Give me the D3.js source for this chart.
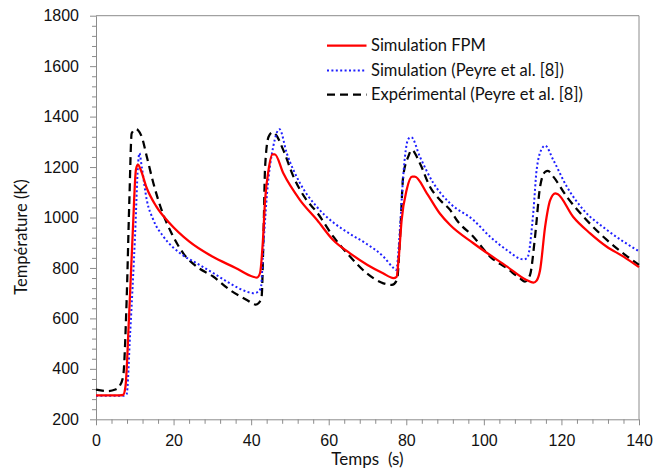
<!DOCTYPE html>
<html>
<head>
<meta charset="utf-8">
<script src="https://cdn.jsdelivr.net/npm/d3@7"></script>
<style>
  body { margin: 0; background: #fff; }
  svg { display: block; font-family: Lato, "Open Sans", sans-serif; font-variant-ligatures: none; }
</style>
</head>
<body>
<div id="chart"></div>
<script>
// Simulation FPM
const timeFPM = [0, 6, 7, 7.6, 8.5, 9.5, 10.3, 10.8, 11.5, 13, 15.5, 19, 24, 30, 36, 40.5, 41.5, 42.3, 43, 43.6, 44.5, 45.5, 46.1, 48.3, 52.6, 57, 61, 65.5, 70, 74, 76.7, 77.5, 78, 78.8, 80.1, 81.5, 82.2, 85.3, 88.7, 91.3, 97.3, 106, 111, 112.8, 113.6, 114.5, 115.8, 117.1, 118.4, 119, 123, 127.4, 131.7, 136, 140];
const tempFPM = [295, 295, 297, 330, 600, 950, 1190, 1210, 1190, 1120, 1045, 977, 905, 845, 800, 765, 762, 780, 900, 1070, 1190, 1250, 1250, 1175, 1069, 990, 913, 858, 812, 779, 760, 765, 830, 990, 1110, 1162, 1162, 1096, 1015, 970, 898, 805, 752, 742, 750, 792, 964, 1069, 1096, 1093, 1003, 937, 884, 845, 803];

// Simulation (Peyre et al. [8])
const timeSim = [0, 7, 7.9, 8.8, 10.1, 10.8, 11.2, 11.8, 13.1, 14.8, 17.4, 21.7, 26, 30.3, 34.5, 38.9, 40.5, 41.5, 42.5, 43.2, 44.1, 45.7, 47.3, 49.2, 52.6, 56.9, 61.2, 65.5, 69.8, 74.1, 76.7, 77.4, 78.4, 79.2, 80.5, 81.3, 83.5, 87, 91.3, 97.3, 101.6, 105.9, 110.2, 111.2, 112.8, 113.6, 115, 115.8, 117.9, 121.4, 125.7, 131.7, 140];
const tempSim = [293, 293, 300, 540, 940, 1200, 1255, 1200, 1069, 990, 924, 858, 818, 779, 739, 706, 700, 703, 720, 898, 1096, 1281, 1350, 1254, 1136, 1043, 980, 935, 895, 845, 800, 792, 964, 1162, 1311, 1318, 1241, 1136, 1056, 990, 924, 871, 834, 840, 1030, 1188, 1274, 1285, 1228, 1122, 1030, 951, 866];

// Expérimental (Peyre et al. [8])
const timeExp = [0, 3, 5, 6, 7, 7.9, 8.6, 9.2, 10.3, 10.9, 11.8, 13.1, 14.8, 16.9, 19.5, 22.5, 26, 30.3, 34.5, 38.9, 41.2, 41.9, 42.7, 43.2, 43.6, 44.5, 45.5, 46.3, 48.3, 50.9, 54.3, 56.9, 61.2, 65.5, 69.8, 74.1, 76.3, 77.6, 78.4, 79.2, 80.5, 81.4, 83.5, 86.1, 88.7, 91.3, 93, 97.3, 101.6, 105.9, 109.3, 110.6, 111.9, 113.2, 114.5, 115.8, 116.5, 117.9, 121.4, 125.7, 131.7, 140];
const tempExp = [318, 312, 318, 330, 370, 673, 1069, 1334, 1350, 1345, 1320, 1241, 1136, 1030, 937, 858, 805, 765, 713, 673, 655, 660, 686, 937, 1201, 1320, 1338, 1330, 1267, 1162, 1069, 1022, 924, 845, 779, 739, 733, 752, 924, 1162, 1241, 1268, 1215, 1122, 1069, 1030, 990, 924, 845, 799, 759, 746, 772, 924, 1122, 1181, 1185, 1162, 1082, 1003, 911, 812];

const xMajor = [0, 20, 40, 60, 80, 100, 120, 140];
const yMajor = [200, 400, 600, 800, 1000, 1200, 1400, 1600, 1800];

const seriesNames = ["Simulation FPM", "Simulation (Peyre et al. [8])", "Expérimental (Peyre et al. [8])"];

const width = 654, height = 475;
const plot = { left: 96, right: 639, top: 15.7, bottom: 419.3 };
const axisColor = "#8c8c8c";

const svg = d3.select("#chart").append("svg")
  .attr("width", width)
  .attr("height", height);

svg.append("rect").attr("width", width).attr("height", height).attr("fill", "#fff");

const x = d3.scaleLinear().domain([0, 140]).range([plot.left, plot.right]);
const y = d3.scaleLinear().domain([200, 1800]).range([plot.bottom, plot.top]);

// box (top + right)
svg.append("path")
  .attr("d", `M${plot.left},${plot.top}H${plot.right}V${plot.bottom}`)
  .attr("fill", "none")
  .attr("stroke", axisColor)
  .attr("stroke-width", 1);

// minor ticks
const xMinor = d3.range(0, 141, 4).filter(v => v % 20 !== 0);
const yMinor = d3.range(200, 1801, 40).filter(v => v % 200 !== 0);

svg.append("g")
  .attr("transform", `translate(0,${plot.bottom})`)
  .call(d3.axisBottom(x).tickValues(xMinor).tickSize(4.5).tickFormat(""))
  .call(g => g.select(".domain").remove())
  .selectAll("line").attr("stroke", axisColor);

svg.append("g")
  .attr("transform", `translate(${plot.left},0)`)
  .call(d3.axisLeft(y).tickValues(yMinor).tickSize(4).tickFormat(""))
  .call(g => g.select(".domain").remove())
  .selectAll("line").attr("stroke", axisColor);

// major axes
const xAxis = svg.append("g")
  .attr("transform", `translate(0,${plot.bottom})`)
  .call(d3.axisBottom(x).tickValues(xMajor).tickFormat(d3.format("d"))
    .tickSize(6).tickSizeOuter(0).tickPadding(9));
xAxis.select(".domain").attr("stroke", axisColor);
xAxis.selectAll("line").attr("stroke", axisColor);
xAxis.selectAll("text").attr("fill", "#111").style("font-size", "16px").attr("font-family", null);

const yAxis = svg.append("g")
  .attr("transform", `translate(${plot.left},0)`)
  .call(d3.axisLeft(y).tickValues(yMajor).tickFormat(d3.format("d"))
    .tickSize(6).tickSizeOuter(0).tickPadding(11));
yAxis.select(".domain").attr("stroke", axisColor);
yAxis.selectAll("line").attr("stroke", axisColor);
yAxis.selectAll("text").attr("fill", "#111").style("font-size", "16px").attr("font-family", null);

// axis titles
svg.append("text")
  .attr("x", (plot.left + plot.right) / 2)
  .attr("y", 465)
  .attr("text-anchor", "middle")
  .attr("fill", "#111")
  .style("font-size", "17px")
  .style("white-space", "pre")
  .text("Temps  (s)");

svg.append("text")
  .attr("transform", `translate(27,237) rotate(-90)`)
  .attr("text-anchor", "middle")
  .attr("fill", "#111")
  .style("font-size", "16.5px")
  .text("Température (K)");

// curves
const line = d3.line()
  .x(d => x(d[0]))
  .y(d => y(d[1]))
  .curve(d3.curveMonotoneX);

const styles = [
  { color: "#ff0000", width: 2.25, dash: null },
  { color: "#1f1fff", width: 2, dash: "2,2.4" },
  { color: "#000000", width: 2.25, dash: "8,5" }
];

const series = [
  d3.zip(timeFPM, tempFPM),
  d3.zip(timeSim, tempSim),
  d3.zip(timeExp, tempExp)
];

// draw experimental first, then Peyre simulation, then FPM on top
[2, 1, 0].forEach(i => {
  svg.append("path")
    .datum(series[i])
    .attr("fill", "none")
    .attr("stroke", styles[i].color)
    .attr("stroke-width", styles[i].width)
    .attr("stroke-dasharray", styles[i].dash)
    .attr("d", line);
});

// legend
const legend = svg.append("g");
const legendRows = [45.7, 70.5, 94.5];
seriesNames.forEach((name, i) => {
  legend.append("line")
    .attr("x1", 327).attr("x2", 366.5)
    .attr("y1", legendRows[i]).attr("y2", legendRows[i])
    .attr("stroke", styles[i].color)
    .attr("stroke-width", styles[i].width)
    .attr("stroke-dasharray", styles[i].dash);
  legend.append("text")
    .attr("x", 371)
    .attr("y", legendRows[i])
    .attr("dy", "0.35em")
    .attr("fill", "#111")
    .style("font-size", "16.5px")
    .text(name);
});
</script>
</body>
</html>
